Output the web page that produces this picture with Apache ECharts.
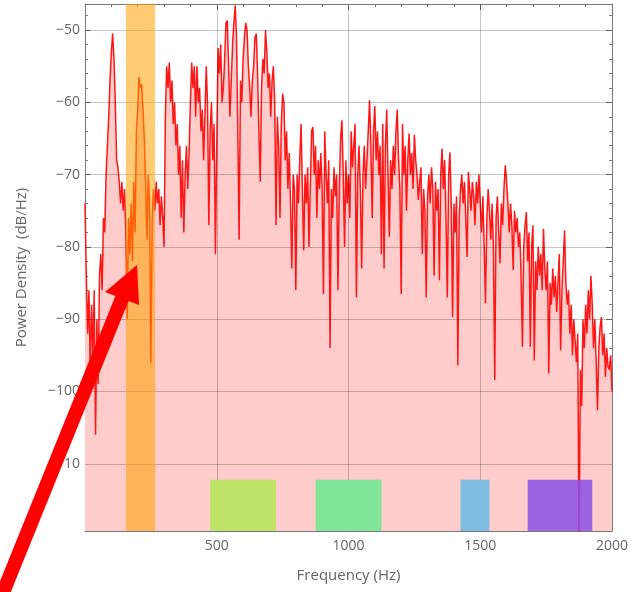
<!DOCTYPE html>
<html>
<head>
<meta charset="utf-8">
<script src="https://cdn.jsdelivr.net/npm/echarts@6/dist/echarts.min.js"></script>
<style>html,body{margin:0;padding:0;background:#fff}#main{width:641px;height:592px}</style>
</head>
<body>
<div id="main"></div>
<script>
var myChart = echarts.init(document.getElementById('main'));

var step = 5; // Hz between samples, first sample at 0 Hz
// power density (dB/Hz), one row per 100 Hz
var power = [
  -74, -84, -92, -86, -97, -88, -95, -86, -106, -90, -99, -84, -81, -86, -76, -78, -70, -66, -62, -57,
  -53, -50.5, -54, -60, -68, -69, -71, -74, -71, -75, -72, -78, -90, -76, -81, -74, -82, -71, -78, -64,
  -61, -56.5, -58, -57.5, -61, -65, -71, -79, -70, -74, -96, -76, -72, -75, -71, -74, -72, -77, -73, -76,
  -80, -62, -55, -58, -54.5, -60, -57, -63, -60, -66, -63, -70, -66, -76, -68, -78, -70, -66, -72, -67,
  -60, -54.5, -58, -55, -62, -55, -60, -58, -64, -61, -68, -62, -55, -60, -77, -64, -60, -68, -63, -81,
  -66, -52.5, -56, -52, -60, -58, -54, -49, -48.7, -55, -62, -57, -52, -49, -46.6, -51, -64, -79, -57, -60,
  -54, -51, -49, -50, -55, -58, -62, -57, -55, -51, -50.5, -56, -64, -71, -58, -54, -56, -50, -53, -58,
  -56, -62, -57, -55, -60, -77, -62, -66, -76, -63, -58.8, -60, -68, -64, -72, -67, -74, -83, -70, -72,
  -86, -70, -74, -68, -63, -72, -80.5, -70, -74, -69, -80, -72, -64, -63.4, -70, -66, -76, -68, -72, -67,
  -72, -86.5, -64, -70, -74, -68, -94, -72, -76, -69, -73, -70, -86, -72, -65, -62.5, -70, -80, -68, -74,
  -70, -76, -64, -69, -66, -63, -87, -70, -66, -72, -83, -70, -66, -72, -68, -64, -59.7, -66, -76, -64,
  -60.5, -68, -64, -70, -66, -81, -63, -83, -66, -61, -70, -78.6, -68, -72, -66, -70, -64, -61, -68, -72,
  -86.5, -63, -70, -66, -75, -68, -64.3, -70, -67, -72, -64.5, -68, -70, -73.5, -71, -69, -81, -72, -75, -87,
  -73, -70, -74, -69, -72, -84, -71, -75, -72, -84.6, -70, -66.4, -72, -68, -76, -87, -70, -66.9, -74, -89.7,
  -74, -78, -73, -96.4, -76, -72, -70, -74, -71, -76, -81.4, -69.6, -72, -75, -71, -73, -77, -71, -74, -70,
  -74, -78, -73, -80, -87.8, -76, -72, -75, -79, -74, -80, -98.4, -76, -73, -78, -82.3, -74, -77, -72, -68.7,
  -71, -74, -78, -74, -77, -83.2, -75, -78, -76, -80, -78, -84, -93.8, -80, -77, -75.2, -82, -78, -93.8, -80,
  -77, -95.7, -82, -86, -80, -84, -81, -86, -77.5, -83, -86, -82, -97.5, -85, -88, -83, -87, -84, -89, -85,
  -81, -94.3, -86, -82, -77.7, -85, -88, -86, -92, -88, -95, -90, -93, -96, -92, -122, -97, -102, -90, -94,
  -88, -92, -86, -90, -84, -88, -94, -90, -96, -102.6, -94, -91, -89.7, -95, -92, -98, -94, -96.6, -97, -95,
  -100
];

var xLabels = [500, 1000, 1500, 2000];
var yLabels = [-110, -100, -90, -80, -70, -60, -50];
var yRange = [-119.3, -46.4];

// highlighted frequency band (full height)
var bandFrom = 155, bandTo = 266;
// small marker boxes along the bottom
var boxFrom = [475, 875, 1425, 1680];
var boxTo = [725, 1125, 1535, 1925];
var boxTop = -112.2;

var pts = power.map(function (v, i) { return [i * step, v]; });

// minor y ticks every 2 dB
var yMinor = [];
for (var t = -118; t <= -48; t += 2) {
  if (t % 10 !== 0) yMinor.push(t);
}

var boxColors = ['#c0e36a', '#80e597', '#7fbde3', 'rgba(140,80,230,0.85)'];
var boxData = boxFrom.map(function (f, i) {
  return [
    { xAxis: f, yAxis: boxTop, itemStyle: { color: boxColors[i], opacity: 1 } },
    { xAxis: boxTo[i], yAxis: yRange[0] }
  ];
});

var gridLines = yLabels.map(function (v) { return { yAxis: v }; })
  .concat([500, 1000, 1500].map(function (v) { return { xAxis: v }; }));

var fontFam = 'Open Sans';
var frameColor = '#7a7a7a';
var txtColor = '#666';

function yAxisDef(pos, ticks, len, withLine) {
  return {
    type: 'value', min: yRange[0], max: yRange[1], position: pos,
    axisLine: { show: withLine, lineStyle: { color: frameColor } },
    axisTick: { show: true, inside: true, length: len, customValues: ticks, lineStyle: { color: frameColor } },
    axisLabel: { show: false },
    splitLine: { show: false }
  };
}

var yMain = yAxisDef('left', yLabels, 6, true);
yMain.axisLabel = {
  show: true, customValues: yLabels, margin: 5,
  color: txtColor, fontSize: 14, fontFamily: fontFam,
  formatter: function (v) { return String(v).replace('-', '\u2212'); }
};
yMain.name = 'Power Density  (dB/Hz)';
yMain.nameLocation = 'middle';
yMain.nameGap = 56;
yMain.nameTextStyle = { color: txtColor, fontSize: 15, fontFamily: fontFam };

var option = {
  animation: false,
  grid: { left: 85, right: 29, top: 4, bottom: 61 },
  xAxis: [
    {
      type: 'value', min: 0, max: 2000, interval: 500, position: 'bottom',
      axisLine: { lineStyle: { color: frameColor } },
      axisTick: { inside: true, length: 6, lineStyle: { color: frameColor } },
      minorTick: { show: true, splitNumber: 5, length: 3, lineStyle: { color: frameColor } },
      axisLabel: {
        customValues: xLabels, margin: 8, color: txtColor, fontSize: 14, fontFamily: fontFam,
        formatter: function (v) { return String(v); }
      },
      splitLine: { show: false },
      name: 'Frequency (Hz)', nameLocation: 'middle', nameGap: 37,
      nameTextStyle: { color: txtColor, fontSize: 15, fontFamily: fontFam }
    },
    {
      type: 'value', min: 0, max: 2000, interval: 500, position: 'top',
      axisLine: { lineStyle: { color: frameColor } },
      axisTick: { inside: true, length: 6, lineStyle: { color: frameColor } },
      minorTick: { show: true, splitNumber: 5, length: 3, lineStyle: { color: frameColor } },
      axisLabel: { show: false },
      splitLine: { show: false }
    }
  ],
  yAxis: [
    yMain,
    yAxisDef('left', yMinor, 3, false),
    yAxisDef('right', yLabels, 6, true),
    yAxisDef('right', yMinor, 3, false)
  ],
  series: [
    {
      name: 'spectrum', type: 'line', data: pts, z: 2,
      showSymbol: false, symbol: 'none', sampling: null,
      lineStyle: { color: '#ff0000', width: 1.5, opacity: 0.9 },
      areaStyle: { color: '#ffcccc', opacity: 1, origin: 'start' }
    },
    {
      name: 'grid', type: 'line', data: [], z: 3,
      markLine: {
        silent: true, symbol: 'none', z: 3, animation: false,
        label: { show: false },
        lineStyle: { color: 'rgba(0,0,0,0.22)', type: 'solid', width: 1 },
        data: gridLines
      }
    },
    {
      name: 'bands', type: 'line', data: [], z: 4,
      markArea: {
        silent: true, z: 4,
        data: [[
          { xAxis: bandFrom, itemStyle: { color: 'rgba(255,160,0,0.55)' } },
          { xAxis: bandTo }
        ]].concat(boxData)
      }
    }
  ],
  graphic: [
    {
      type: 'line', z: 100,
      shape: { x1: 0, y1: 600, x2: 125, y2: 291 },
      style: { stroke: '#ff0000', lineWidth: 14 }
    },
    {
      type: 'polygon', z: 100,
      shape: { points: [[137, 265], [105, 292], [139, 305]] },
      style: { fill: '#ff0000' }
    }
  ]
};

myChart.setOption(option);
</script>
</body>
</html>
